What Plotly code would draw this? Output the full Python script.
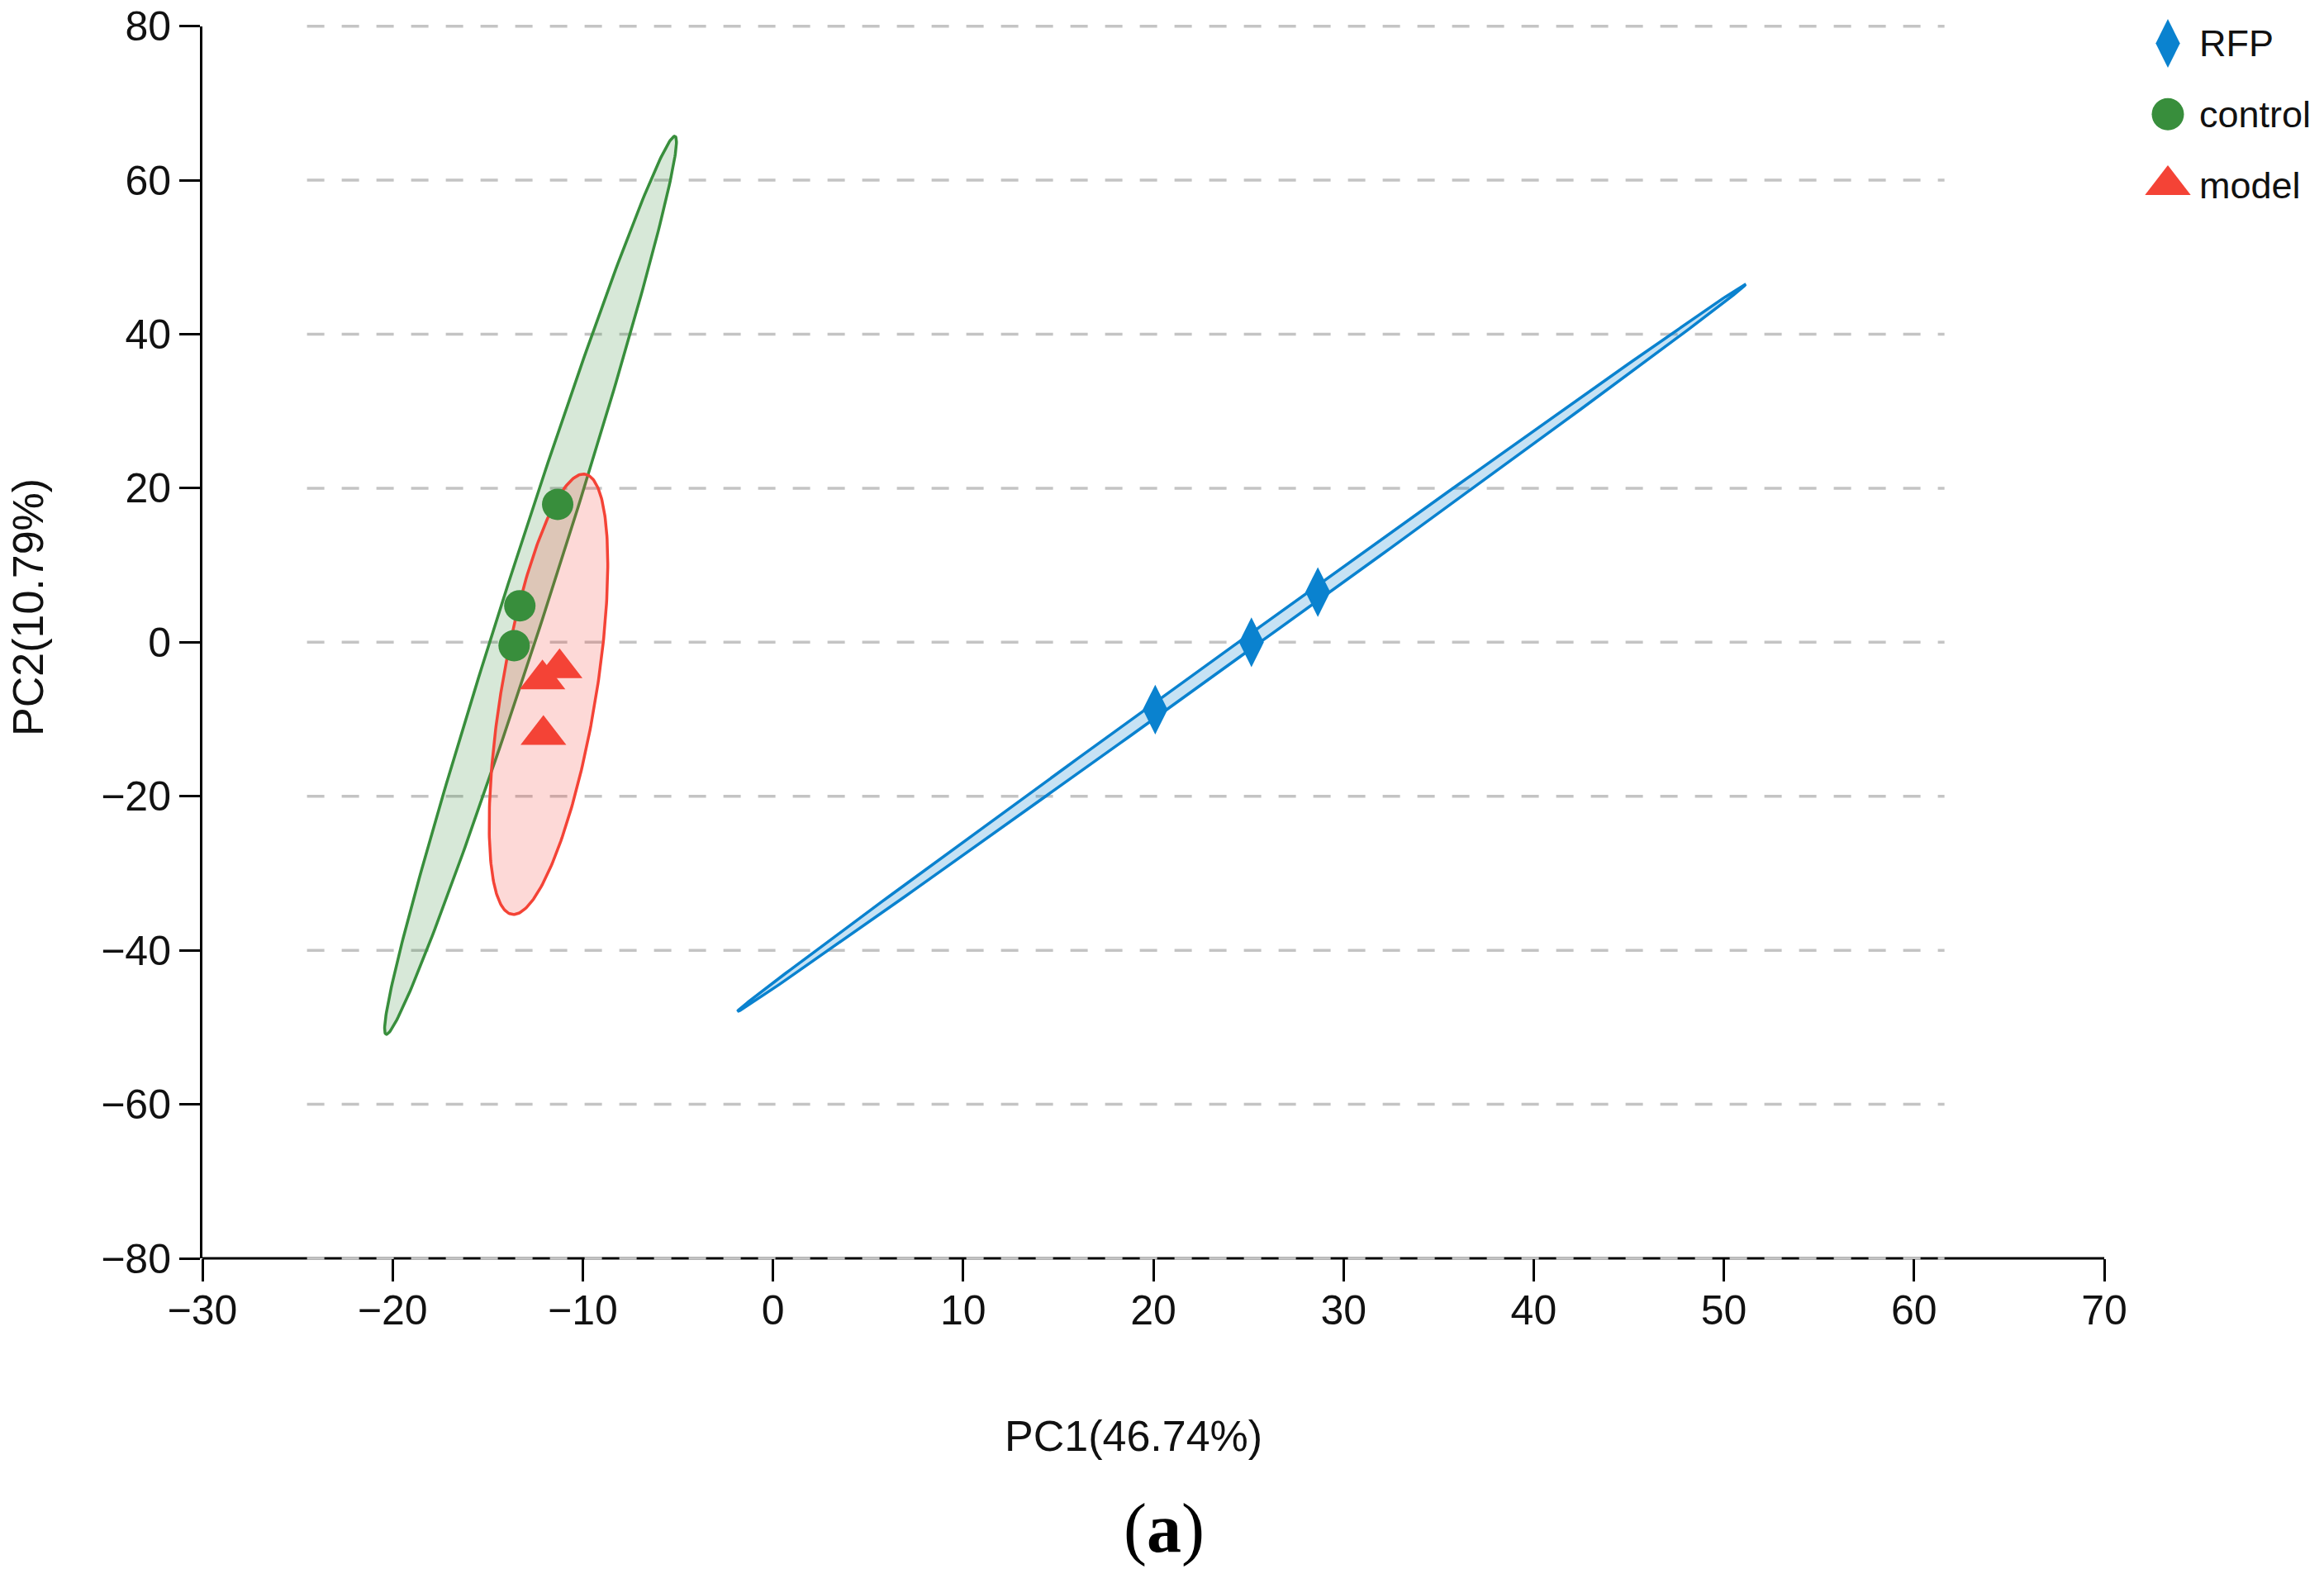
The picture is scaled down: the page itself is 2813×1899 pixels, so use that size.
#######################################################
# plotly
import numpy as np
import plotly.graph_objects as go

#######################################################
# data (PCA scores)
GROUPS = ['RFP', 'control', 'model']

RFP_X = [20.1, 25.16, 28.65]
RFP_Y = [-8.74, 0.0, 6.52]

CONTROL_X = [-11.32, -13.31, -13.61]
CONTROL_Y = [17.9, 4.74, -0.45]

MODEL_X = [-11.22, -12.12, -12.07]
MODEL_Y = [-3.38, -4.83, -12.04]

X_TICKS = [-30, -20, -10, 0, 10, 20, 30, 40, 50, 60, 70]
Y_TICKS = [-80, -60, -40, -20, 0, 20, 40, 60, 80]
GRID_X = [-24.5, 61.6]  # dashed grid lines only span this part of the x range

X_TITLE = 'PC1(46.74%)'
Y_TITLE = 'PC2(10.79%)'
CAPTION = '(<b>a</b>)'

#######################################################
# style
COLORS = {'RFP': '#0a82cf', 'control': '#388e3c', 'model': '#f44336'}
FILLS = {'RFP': 'rgba(10,130,207,0.23)', 'control': 'rgba(56,142,60,0.2)', 'model': 'rgba(244,67,54,0.2)'}
SYMBOLS = {'RFP': 'diamond-tall', 'control': 'circle', 'model': 'triangle-up'}
SIZES = {'RFP': 43, 'control': 38, 'model': 48}
LEGEND_SIZES = {'RFP': 42, 'control': 39, 'model': 48}

FONT = 'Liberation Sans, Arial, sans-serif'
W, H = 2813, 1899
M_L, M_R, M_T, M_B = 245, 10, 0, 376


# pixel -> paper helpers (layout only)
def px_x(p):
    return (p - M_L) / (W - M_L - M_R)


def px_y(p):
    return (H - M_B - p) / (H - M_T - M_B)


# 95% confidence ellipse like ggplot stat_ellipse (type='norm')
def conf_ellipse(x, y, level=0.95, n_pts=300):
    x = np.asarray(x, dtype=float)
    y = np.asarray(y, dtype=float)
    n = len(x)
    cov = np.cov(x, y)
    d2 = n - 1
    fq = d2 / 2 * ((1 - level) ** (-2 / d2) - 1)  # F(2, d2) quantile
    radius = np.sqrt(2 * fq)
    vals, vecs = np.linalg.eigh(cov)
    vals = np.clip(vals, 0, None)
    t = np.linspace(0, 2 * np.pi, n_pts)
    circle = np.vstack([np.cos(t), np.sin(t)])
    pts = vecs @ (np.sqrt(vals)[:, None] * circle) * radius
    return x.mean() + pts[0], y.mean() + pts[1]


data = {
    'RFP': (RFP_X, RFP_Y),
    'control': (CONTROL_X, CONTROL_Y),
    'model': (MODEL_X, MODEL_Y),
}

fig = go.Figure()

# ellipses first
for g in ['control', 'model', 'RFP']:
    ex, ey = conf_ellipse(*data[g])
    fig.add_trace(go.Scatter(
        x=ex, y=ey,
        mode='lines',
        fill='toself',
        fillcolor=FILLS[g],
        line=dict(color=COLORS[g], width=3.5),
        hoverinfo='skip',
        showlegend=False
    ))

# score points
for g in GROUPS:
    gx, gy = data[g]
    fig.add_trace(go.Scatter(
        x=gx, y=gy,
        mode='markers',
        name=g,
        marker=dict(symbol=SYMBOLS[g], size=SIZES[g], color=COLORS[g], opacity=1, line_width=0),
        showlegend=False
    ))

# hand made legend (native legend caps marker size)
fig.add_trace(go.Scatter(
    x=[0] * len(GROUPS),
    y=list(range(len(GROUPS))),
    mode='markers',
    marker=dict(symbol=[SYMBOLS[g] for g in GROUPS],
                size=[LEGEND_SIZES[g] for g in GROUPS],
                color=[COLORS[g] for g in GROUPS],
                opacity=1,
                line_width=0),
    xaxis='x2', yaxis='y2',
    cliponaxis=False,
    hoverinfo='skip',
    showlegend=False
))

annotations = []
for i, g in enumerate(GROUPS):
    annotations.append(dict(
        x=0, y=i, xref='x2', yref='y2',
        text=g, showarrow=False,
        xanchor='left', yanchor='middle', xshift=36,
        font=dict(family=FONT, size=45, color='#111111')
    ))

# axis titles + caption
annotations.append(dict(x=px_x(1372), y=px_y(1738), xref='paper', yref='paper',
                        text=X_TITLE, showarrow=False, xanchor='center', yanchor='middle',
                        font=dict(family=FONT, size=52, color='#111111')))
annotations.append(dict(x=px_x(34), y=px_y(735), xref='paper', yref='paper',
                        text=Y_TITLE, showarrow=False, textangle=-90,
                        xanchor='center', yanchor='middle',
                        font=dict(family=FONT, size=52, color='#111111')))
annotations.append(dict(x=px_x(1409), y=px_y(1850), xref='paper', yref='paper',
                        text=CAPTION, showarrow=False, xanchor='center', yanchor='middle',
                        font=dict(family='Liberation Serif, Times New Roman, serif', size=84, color='black')))

# bottom axis line + dashed grid lines
x_span = X_TICKS[-1] - X_TICKS[0]
y_span = Y_TICKS[-1] - Y_TICKS[0]
shapes = [dict(type='line', xref='x domain', yref='y domain',
               x0=0, x1=1, y0=0, y1=0, layer='below',
               line=dict(color='black', width=3))]
for yv in Y_TICKS:
    shapes.append(dict(type='line', xref='x domain', yref='y domain',
                       x0=(GRID_X[0] - X_TICKS[0]) / x_span,
                       x1=(GRID_X[1] - X_TICKS[0]) / x_span,
                       y0=(yv - Y_TICKS[0]) / y_span,
                       y1=(yv - Y_TICKS[0]) / y_span,
                       layer='below',
                       line=dict(color='#c4c4c4', width=3.5, dash='21px,21px')))

X_DOM = px_x(2547)
Y_DOM = px_y(31.7)

fig.update_layout(
    width=W, height=H,
    margin=dict(l=M_L, r=M_R, t=M_T, b=M_B, autoexpand=False),
    paper_bgcolor='white',
    plot_bgcolor='white',
    showlegend=False,
    font=dict(family=FONT, color='#111111'),
    xaxis=dict(range=[X_TICKS[0], X_TICKS[-1]], domain=[0, X_DOM],
               tickvals=X_TICKS, ticks='outside', ticklen=27, tickwidth=3, tickcolor='black',
               ticklabelstandoff=-8,
               showline=False, showgrid=False, zeroline=False,
               tickfont=dict(family=FONT, size=50, color='#111111')),
    yaxis=dict(range=[Y_TICKS[0], Y_TICKS[-1]], domain=[0, Y_DOM],
               tickvals=Y_TICKS, ticks='outside', ticklen=25, tickwidth=3, tickcolor='black',
               showline=True, linewidth=3, linecolor='black',
               showgrid=False, zeroline=False,
               tickfont=dict(family=FONT, size=50, color='#111111')),
    xaxis2=dict(domain=[px_x(2624), 1], range=[0, 1], visible=False, fixedrange=True),
    yaxis2=dict(domain=[px_y(274), 1], range=[2.583, -0.612], visible=False, fixedrange=True),
    shapes=shapes,
    annotations=annotations
)

# drop the default body margin so the figure fills the window exactly
fig.write_html("out.html",
               config={'displayModeBar': False},
               post_script="document.body.style.margin = '0';")
